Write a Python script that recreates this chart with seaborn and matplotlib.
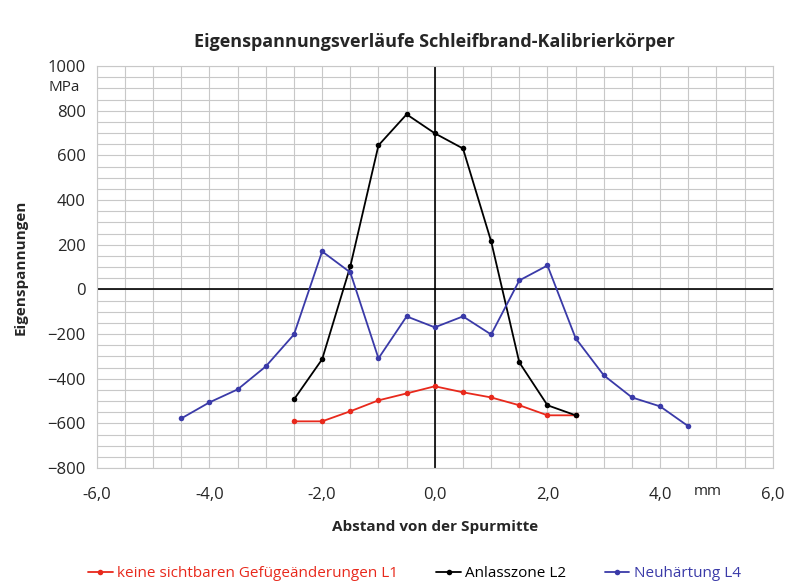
import matplotlib
matplotlib.use("Agg")
import matplotlib.pyplot as plt
import seaborn as sns
import pandas as pd
from matplotlib.ticker import MultipleLocator, FuncFormatter

x_red = [-2.5,-2,-1.5,-1,-0.5,0,0.5,1,1.5,2,2.5]
y_red = [-591,-591,-546,-497,-466,-434,-461,-484,-519,-564,-564]
x_black = [-2.5,-2,-1.5,-1,-0.5,0,0.5,1,1.5,2,2.5]
y_black = [-493,-313,103,645,784,699,631,215,-327,-519,-564]
x_blue = [-4.5,-4,-3.5,-3,-2.5,-2,-1.5,-1,-0.5,0,0.5,1,1.5,2,2.5,3,3.5,4,4.5]
y_blue = [-578,-506,-448,-345,-202,170,76,-309,-121,-170,-121,-202,40,107,-219,-385,-484,-524,-613]
names = ["keine sichtbaren Gefügeänderungen L1", "Anlasszone L2", "Neuhärtung L4"]
colors = ["#e8291c", "#000000", "#3a3aa8"]

sns.set_style("white")
plt.rcParams['font.family'] = ['Open Sans', 'DejaVu Sans']
fig = plt.figure(figsize=(8, 5.85), dpi=100)
ax = fig.add_axes([0.121, 0.2, 0.845, 0.687])

for xs, ys, n, c in zip([x_red, x_black, x_blue], [y_red, y_black, y_blue], names, colors):
    df = pd.DataFrame({"x": xs, "y": ys})
    sns.lineplot(data=df, x="x", y="y", ax=ax, color=c, marker="o", markersize=4,
                 markeredgewidth=0, linewidth=1.3, label=n, sort=False)

ax.set_xlim(-6, 6)
ax.set_ylim(-800, 1000)
ax.xaxis.set_major_locator(MultipleLocator(2))
ax.xaxis.set_minor_locator(MultipleLocator(0.5))
ax.yaxis.set_major_locator(MultipleLocator(200))
ax.yaxis.set_minor_locator(MultipleLocator(50))
ax.grid(which="both", color="#c8c8c8", linewidth=0.8)
ax.set_axisbelow(True)
ax.xaxis.set_major_formatter(FuncFormatter(lambda v, p: f"{v:.1f}".replace(".", ",")))
for s in ["top", "right", "left", "bottom"]:
    ax.spines[s].set_color("#c8c8c8")
ax.axhline(0, color="black", linewidth=1.2, zorder=1.5)
ax.axvline(0, color="black", linewidth=1.2, zorder=1.5)
ax.tick_params(labelsize=12, length=0)
ax.tick_params(axis="x", pad=14)
ax.tick_params(axis="y", pad=8)
ax.set_xlabel("Abstand von der Spurmitte", fontsize=11, fontweight="bold", labelpad=12)
ax.set_ylabel("Eigenspannungen", fontsize=11, fontweight="bold", labelpad=14)
ax.set_title("Eigenspannungsverläufe Schleifbrand-Kalibrierkörper", fontsize=13, fontweight="bold", pad=14)
ax.text(-6.3, 905, "MPa", fontsize=11, ha="right", va="center")
ax.text(4.85, -907, "mm", fontsize=11, ha="center", va="center")
ax.legend(loc="upper center", bbox_to_anchor=(0.47, -0.21), ncol=3, frameon=False,
          fontsize=11, handlelength=1.6, columnspacing=2.5, handletextpad=0.3)
for t, c in zip(ax.get_legend().get_texts(), colors):
    t.set_color(c)
fig.savefig("out.png", dpi=100)
